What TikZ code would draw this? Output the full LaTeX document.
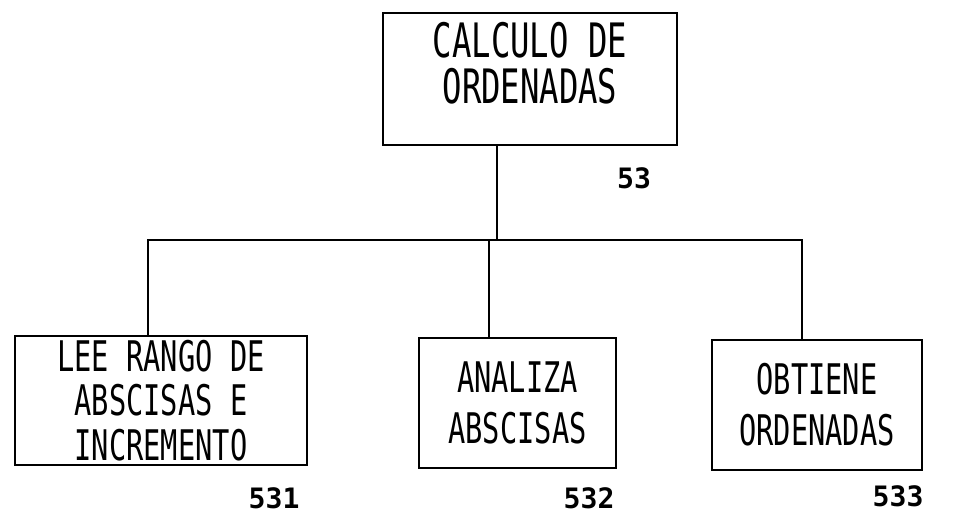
\documentclass[tikz,border=0pt]{standalone}
\usepackage{fontspec}
\usetikzlibrary{positioning, calc}
\newfontfamily\boxfont{DejaVu Sans Mono}[FakeStretch=0.68]
\newfontfamily\numfont{DejaVu Sans Mono}
\tikzset{
  box/.style   = {draw, line width=1.3pt, inner sep=0pt, align=center},
  topfont/.style = {font=\boxfont\fontsize{27}{26.5}\selectfont},
  subfont/.style = {font=\boxfont\fontsize{24}{29}\selectfont},
  num/.style   = {font=\numfont\bfseries\fontsize{16}{16}\selectfont, inner sep=0pt},
  link/.style  = {line width=1.3pt},
}

\begin{document}
\begin{tikzpicture}[x=0.02cm, y=0.02cm]
\useasboundingbox (0,0) rectangle (960,513);

% ---- Boxes ------------------------------------------------------------------
\node[box, topfont, minimum width=5.88cm, minimum height=2.64cm] (top) at (530,434)
  {CALCULO DE\\ORDENADAS\\[-8pt]};
\node[box, subfont, minimum width=5.84cm, minimum height=2.58cm,
      font=\boxfont\fontsize{24}{25.5}\selectfont] (c1) at (161,112.5)
  {LEE RANGO DE\\ABSCISAS E\\INCREMENTO};
\node[box, subfont, minimum width=3.94cm, minimum height=2.6cm] (c2) at (517.5,110)
  {ANALIZA\\ABSCISAS};
\node[box, subfont, minimum width=4.2cm, minimum height=2.6cm] (c3) at (817,108)
  {OBTIENE\\ORDENADAS};

% ---- Numbers ----------------------------------------------------------------
\node[num] (n53)  at ($(top.south east)+(-44,-32)$) {53};
\node[num] (n531) at ($(c1.south east)+(-34,-32)$)  {531};
\node[num] (n532) at ($(c2.south east)+(-28,-29)$)  {532};
\node[num] (n533) at ($(c3.south east)+(-25,-25)$)  {533};

% ---- Connectors -------------------------------------------------------------
\coordinate (dropT) at ($(top.south)+(-33,0)$);
\coordinate (drop1) at ($(c1.north)+(-13,0)$);
\coordinate (drop2) at ($(c2.north)+(-28.5,0)$);
\coordinate (drop3) at ($(c3.north)+(-15,0)$);
\coordinate (bus)   at (0,273);

\draw[link] (drop1) -- (drop1 |- bus) -| (drop3);
\draw[link] (dropT) -- (dropT |- bus);
\draw[link] (drop2) -- (drop2 |- bus);

\end{tikzpicture}
\end{document}
